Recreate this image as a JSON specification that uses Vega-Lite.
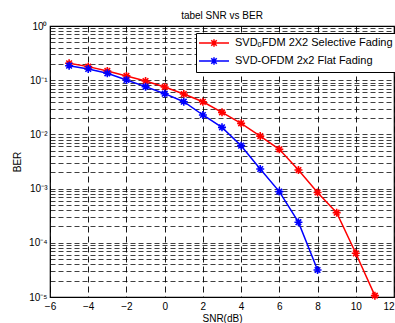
{
  "$schema": "https://vega.github.io/schema/vega-lite/v6.json",
  "width": 344,
  "height": 271,
  "autosize": {"type": "none"},
  "padding": {"left": 50, "top": 26, "right": 1, "bottom": 26},
  "background": "white",
  "title": {"text": "tabel SNR vs BER", "fontSize": 10, "font": "Liberation Sans", "fontWeight": "normal", "offset": 0, "color": "black"},
  "config": {
    "view": {"stroke": "black", "strokeWidth": 1.2},
    "font": "Liberation Sans",
    "axis": {"labelColor": "black", "titleColor": "black", "labelFont": "Liberation Sans", "titleFont": "Liberation Sans"}
  },
  "data": {"values": [
    {"series": "SVDₒFDM 2X2 Selective Fading", "snr": -5, "ber": 0.205},
    {"series": "SVDₒFDM 2X2 Selective Fading", "snr": -4, "ber": 0.178},
    {"series": "SVDₒFDM 2X2 Selective Fading", "snr": -3, "ber": 0.148},
    {"series": "SVDₒFDM 2X2 Selective Fading", "snr": -2, "ber": 0.12},
    {"series": "SVDₒFDM 2X2 Selective Fading", "snr": -1, "ber": 0.0966},
    {"series": "SVDₒFDM 2X2 Selective Fading", "snr": 0, "ber": 0.075},
    {"series": "SVDₒFDM 2X2 Selective Fading", "snr": 1, "ber": 0.0556},
    {"series": "SVDₒFDM 2X2 Selective Fading", "snr": 2, "ber": 0.040},
    {"series": "SVDₒFDM 2X2 Selective Fading", "snr": 3, "ber": 0.0255},
    {"series": "SVDₒFDM 2X2 Selective Fading", "snr": 4, "ber": 0.016},
    {"series": "SVDₒFDM 2X2 Selective Fading", "snr": 5, "ber": 0.0093},
    {"series": "SVDₒFDM 2X2 Selective Fading", "snr": 6, "ber": 0.0053},
    {"series": "SVDₒFDM 2X2 Selective Fading", "snr": 7, "ber": 0.0022},
    {"series": "SVDₒFDM 2X2 Selective Fading", "snr": 8, "ber": 0.00085},
    {"series": "SVDₒFDM 2X2 Selective Fading", "snr": 9, "ber": 0.00036},
    {"series": "SVDₒFDM 2X2 Selective Fading", "snr": 10, "ber": 0.000064},
    {"series": "SVDₒFDM 2X2 Selective Fading", "snr": 11, "ber": 0.0000106},
    {"series": "SVD-OFDM 2x2 Flat Fading", "snr": -5, "ber": 0.185},
    {"series": "SVD-OFDM 2x2 Flat Fading", "snr": -4, "ber": 0.161},
    {"series": "SVD-OFDM 2x2 Flat Fading", "snr": -3, "ber": 0.134},
    {"series": "SVD-OFDM 2x2 Flat Fading", "snr": -2, "ber": 0.101},
    {"series": "SVD-OFDM 2x2 Flat Fading", "snr": -1, "ber": 0.076},
    {"series": "SVD-OFDM 2x2 Flat Fading", "snr": 0, "ber": 0.0564},
    {"series": "SVD-OFDM 2x2 Flat Fading", "snr": 1, "ber": 0.0401},
    {"series": "SVD-OFDM 2x2 Flat Fading", "snr": 2, "ber": 0.0228},
    {"series": "SVD-OFDM 2x2 Flat Fading", "snr": 3, "ber": 0.0135},
    {"series": "SVD-OFDM 2x2 Flat Fading", "snr": 4, "ber": 0.0062},
    {"series": "SVD-OFDM 2x2 Flat Fading", "snr": 5, "ber": 0.0023},
    {"series": "SVD-OFDM 2x2 Flat Fading", "snr": 6, "ber": 0.00088},
    {"series": "SVD-OFDM 2x2 Flat Fading", "snr": 7, "ber": 0.00024},
    {"series": "SVD-OFDM 2x2 Flat Fading", "snr": 8, "ber": 0.0000315}
  ]},
  "encoding": {
    "x": {
      "field": "snr", "type": "quantitative",
      "scale": {"domain": [-6, 12], "nice": false, "zero": false},
      "axis": {
        "values": [-6, -4, -2, 0, 2, 4, 6, 8, 10, 12],
        "title": "SNR(dB)", "titleFontSize": 10, "titleFontWeight": "normal", "titlePadding": 2,
        "labelFontSize": 10, "labelPadding": 4, "labelFlush": false, "labelOverlap": false,
        "labelAlign": {"condition": {"test": "datum.value == 12", "value": "right"}, "value": "center"},
        "domain": false, "ticks": false,
        "grid": true, "gridColor": "black", "gridDash": [6, 4], "gridWidth": 1, "gridOpacity": 0.9
      }
    },
    "y": {
      "field": "ber", "type": "quantitative",
      "scale": {"type": "log", "domain": [0.00001, 1], "nice": false},
      "axis": {
        "values": [0.00001, 0.00002, 0.00003, 0.00004, 0.00005, 0.00006, 0.00007, 0.00008, 0.00009,
                   0.0001, 0.0002, 0.0003, 0.0004, 0.0005, 0.0006, 0.0007, 0.0008, 0.0009,
                   0.001, 0.002, 0.003, 0.004, 0.005, 0.006, 0.007, 0.008, 0.009,
                   0.01, 0.02, 0.03, 0.04, 0.05, 0.06, 0.07, 0.08, 0.09,
                   0.1, 0.2, 0.3, 0.4, 0.5, 0.6, 0.7, 0.8, 0.9, 1],
        "labelExpr": "datum.value == 1 ? '10⁰' : datum.value == 0.1 ? '10⁻¹' : datum.value == 0.01 ? '10⁻²' : datum.value == 0.001 ? '10⁻³' : datum.value == 0.0001 ? '10⁻⁴' : datum.value == 0.00001 ? '10⁻⁵' : ''",
        "title": "BER", "titleFontSize": 10, "titleFontWeight": "normal", "titlePadding": 6,
        "labelFontSize": 10, "labelPadding": 3, "labelOverlap": false, "labelFlush": false,
        "domain": false, "ticks": false,
        "grid": true, "gridColor": "black", "gridDash": [5, 3], "gridWidth": 1, "gridOpacity": 0.75
      }
    },
    "color": {
      "field": "series", "type": "nominal",
      "scale": {"domain": ["SVDₒFDM 2X2 Selective Fading", "SVD-OFDM 2x2 Flat Fading"], "range": ["#ff0000", "#0000ff"]},
      "legend": {
        "title": null, "orient": "none", "legendX": 146, "legendY": 7,
        "strokeColor": "black", "fillColor": "white", "padding": 4,
        "labelFontSize": 11, "labelFont": "Liberation Sans", "labelColor": "black", "labelLimit": 300,
        "symbolType": "M-3,0L3,0M-0.75,0L0.75,0M0,-0.75L0,0.75M-0.55,-0.55L0.55,0.55M-0.55,0.55L0.55,-0.55",
        "symbolSize": 100, "symbolStrokeWidth": 1.5, "symbolOffset": 8, "labelOffset": 15, "rowPadding": 4
      }
    }
  },
  "layer": [
    {"mark": {"type": "line", "strokeWidth": 1.5}},
    {"mark": {"type": "point", "shape": "M-1,0L1,0M0,-1L0,1M-0.7,-0.7L0.7,0.7M-0.7,0.7L0.7,-0.7", "size": 64, "filled": false, "strokeWidth": 1.6, "opacity": 1}}
  ]
}
